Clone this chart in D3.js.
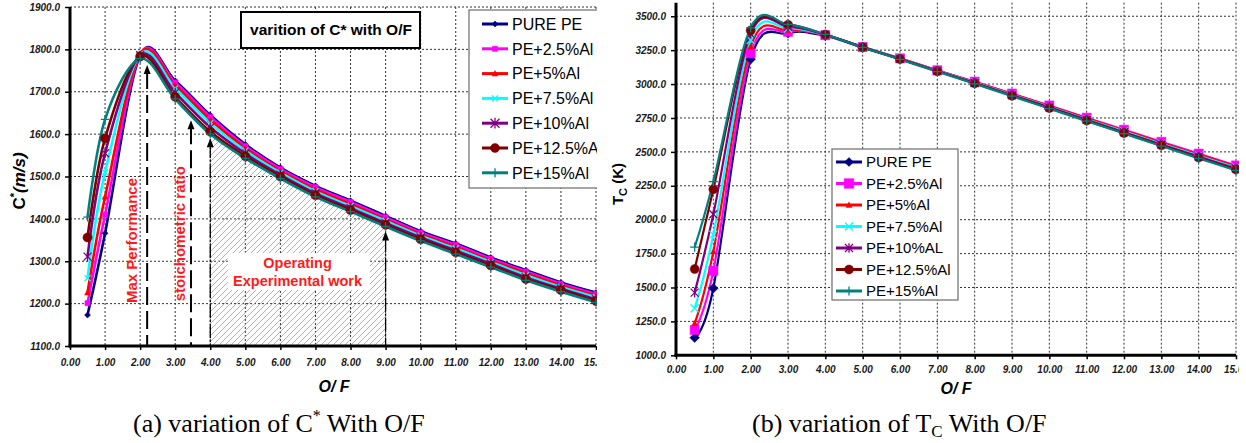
<!DOCTYPE html>
<html><head><meta charset="utf-8">
<script src="https://cdn.jsdelivr.net/npm/d3@7"></script>
<style>
body{margin:0;background:#fff;}
svg{display:block;font-family:Arial,"Liberation Sans",sans-serif;}
</style>
</head><body>
<svg id="c" width="1246" height="443"></svg>
<script>
// ---------------- DATA ----------------
const ofValues = [0.5, 1, 2, 3, 4, 5, 6, 7, 8, 9, 10, 11, 12, 13, 14, 15];
const xTicks = [0,1,2,3,4,5,6,7,8,9,10,11,12,13,14,15];

const namesA = ["PURE PE","PE+2.5%Al","PE+5%Al","PE+7.5%Al","PE+10%Al","PE+12.5%Al","PE+15%Al"];
const namesB = ["PURE PE","PE+2.5%Al","PE+5%Al","PE+7.5%Al","PE+10%AL","PE+12.5%Al","PE+15%Al"];

// (a) characteristic velocity C* (m/s)
const cPure  = [1173, 1366, 1786, 1726, 1645, 1576, 1521, 1478, 1443, 1407, 1371, 1342, 1309, 1279, 1250, 1226];
const cAl25  = [1201, 1409, 1788, 1722, 1641, 1572, 1518, 1475, 1440, 1404, 1368, 1339, 1306, 1276, 1247, 1223];
const cAl5   = [1226, 1452, 1789, 1716, 1634, 1567, 1513, 1470, 1435, 1399, 1364, 1334, 1302, 1272, 1243, 1219];
const cAl75  = [1260, 1510, 1788, 1708, 1626, 1561, 1509, 1465, 1430, 1395, 1360, 1330, 1298, 1267, 1239, 1215];
const cAl10  = [1311, 1555, 1786, 1698, 1616, 1554, 1504, 1460, 1425, 1390, 1356, 1325, 1294, 1262, 1235, 1210];
const cAl125 = [1356, 1590, 1783, 1688, 1606, 1548, 1500, 1456, 1421, 1386, 1352, 1321, 1290, 1258, 1232, 1206];
const cAl15  = [1404, 1635, 1778, 1683, 1600, 1543, 1495, 1452, 1417, 1382, 1348, 1317, 1286, 1255, 1228, 1203];

// (b) chamber temperature Tc (K)
const tPure  = [1130, 1494, 3183, 3375, 3355, 3268, 3185, 3098, 3013, 2925, 2836, 2745, 2655, 2566, 2478, 2390];
const tAl25  = [1187, 1624, 3227, 3386, 3360, 3273, 3190, 3102, 3018, 2930, 2842, 2752, 2663, 2574, 2487, 2400];
const tAl5   = [1236, 1764, 3276, 3398, 3362, 3275, 3190, 3100, 3015, 2927, 2838, 2748, 2658, 2568, 2480, 2393];
const tAl75  = [1347, 1890, 3325, 3410, 3363, 3274, 3188, 3098, 3011, 2922, 2832, 2741, 2651, 2560, 2472, 2384];
const tAl10  = [1462, 2040, 3370, 3424, 3364, 3273, 3186, 3096, 3008, 2918, 2828, 2736, 2645, 2554, 2465, 2377];
const tAl125 = [1636, 2224, 3395, 3438, 3365, 3272, 3184, 3094, 3005, 2914, 2823, 2731, 2639, 2548, 2458, 2370];
const tAl15  = [1797, 2280, 3415, 3440, 3366, 3271, 3182, 3092, 3002, 2911, 2819, 2727, 2635, 2543, 2452, 2363];

const yTicksA = [1100,1200,1300,1400,1500,1600,1700,1800,1900];
const yTicksB = [1000,1250,1500,1750,2000,2250,2500,2750,3000,3250,3500];

// annotation reference lines in chart (a): O/F position and arrow tip value
const refOF   = [2.2, 3.45, 4, 9];
const refTop  = [1763, 1633, 1590, 1370];
const workRange = [4, 9];

const colors  = ["#000080","#FF00FF","#FF0000","#00FFFF","#800080","#800000","#008080"];
const markers = ["diamond","square","triangle","x","asterisk","circle","plus"];

// ---------------- HELPERS ----------------
function markerPath(type, s){
  switch(type){
    case "diamond": return `M0,${-s}L${s},0L0,${s}L${-s},0Z`;
    case "square": return `M${-s},${-s}H${s}V${s}H${-s}Z`;
    case "triangle": return `M0,${-s}L${s},${s*0.8}L${-s},${s*0.8}Z`;
    case "x": return `M${-s},${-s}L${s},${s}M${-s},${s}L${s},${-s}`;
    case "asterisk": return `M${-s},${-s}L${s},${s}M${-s},${s}L${s},${-s}M0,${-s*1.2}V${s*1.2}`;
    case "plus": return `M${-s},0H${s}M0,${-s}V${s}`;
    case "circle": return `M${s},0A${s},${s} 0 1,1 ${-s},0A${s},${s} 0 1,1 ${s},0Z`;
  }
}
const filled = t => ["diamond","square","triangle","circle"].includes(t);

const svg = d3.select("#c");
const defs = svg.append("defs");
defs.append("clipPath").attr("id","clipA").append("rect").attr("x",0).attr("y",0).attr("width",597).attr("height",443);
defs.append("clipPath").attr("id","clipB").append("rect").attr("x",600).attr("y",0).attr("width",639).attr("height",443);
const pat = defs.append("pattern").attr("id","hatch").attr("patternUnits","userSpaceOnUse")
  .attr("width",6).attr("height",6);
pat.append("path").attr("d","M0,6L6,0M-1,1L1,-1M5,7L7,5").attr("stroke","#a8a8a8").attr("stroke-width",0.9);

function drawChart(cfg){
  const g = svg.append("g").attr("clip-path",`url(#${cfg.clip})`);
  const x = d3.scaleLinear().domain([0,15]).range(cfg.xRange);
  const y = d3.scaleLinear().domain(cfg.yDomain).range(cfg.yRange);
  const top = cfg.yRange[1], bottom = cfg.yRange[0];

  // gridlines
  const grid = g.append("g").attr("stroke","#333").attr("stroke-width",1).attr("stroke-dasharray","2,2");
  xTicks.filter(d=>d>0).forEach(d=>{
    grid.append("line").attr("x1",x(d)).attr("x2",x(d)).attr("y1",top).attr("y2",bottom);
  });
  cfg.yTicks.filter(d=>d>cfg.yDomain[0]).forEach(d=>{
    grid.append("line").attr("x1",x(0)).attr("x2",x(15)).attr("y1",y(d)).attr("y2",y(d));
  });

  if(cfg.before) cfg.before(g, x, y);

  const line = d3.line().x((d,i)=>x(ofValues[i])).y(d=>y(d)).curve(d3.curveCardinal.tension(0));
  cfg.series.forEach((s,k)=>{
    g.append("path").attr("d",line(s)).attr("fill","none").attr("stroke",colors[k])
      .attr("stroke-width",cfg.lineWidth).attr("stroke-linejoin","round");
  });
  cfg.series.forEach((s,k)=>{
    const t = markers[k];
    s.forEach((v,i)=>{
      g.append("path").attr("transform",`translate(${x(ofValues[i])},${y(v)})`)
        .attr("d",markerPath(t,cfg.markerSize[k]))
        .attr("fill",filled(t)?colors[k]:"none").attr("stroke",colors[k])
        .attr("stroke-width",filled(t)?0.5:1.3);
    });
  });

  // axes
  const ax = g.append("g").attr("transform",`translate(0,${bottom})`)
    .call(d3.axisBottom(x).tickValues(xTicks).tickSize(4).tickSizeOuter(0).tickPadding(cfg.xPad).tickFormat(d3.format(".2f")));
  const ay = g.append("g").attr("transform",`translate(${x(0)},0)`)
    .call(d3.axisLeft(y).tickValues(cfg.yTicks).tickSize(5).tickSizeOuter(0).tickPadding(5).tickFormat(d3.format(".1f")));
  [ax,ay].forEach(a=>{
    a.select(".domain").attr("stroke","#000").attr("stroke-width",3);
    a.selectAll(".tick line").attr("stroke","#000").attr("stroke-width",1.5);
    a.selectAll("text").attr("font-size",10).attr("font-weight","bold").attr("font-style","italic")
      .attr("fill","#1a1a1a").attr("font-family","Arial, 'Liberation Sans', sans-serif");
  });
  ay.select(".domain").attr("d",`M0,${bottom+1.5}V${top}`);
  ax.select(".domain").attr("d",`M${x(0)-1.5},0H${x(15)}`);

  // x-axis title
  g.append("text").attr("x",cfg.xTitle[0]).attr("y",cfg.xTitle[1]).attr("text-anchor","middle")
    .attr("font-size",16).attr("font-weight","bold").attr("font-style","italic").text("O/ F");

  // legend
  const L = cfg.legend;
  const lg = g.append("g");
  lg.append("rect").attr("x",L.x).attr("y",L.y).attr("width",L.w).attr("height",L.h)
    .attr("fill","#fff").attr("stroke","#777").attr("stroke-width",1.3);
  cfg.names.forEach((n,k)=>{
    const yy = L.y0 + k*L.dy;
    lg.append("line").attr("x1",L.lx).attr("x2",L.lx+26).attr("y1",yy).attr("y2",yy)
      .attr("stroke",colors[k]).attr("stroke-width",3);
    const t = markers[k];
    lg.append("path").attr("transform",`translate(${L.lx+13},${yy})`).attr("d",markerPath(t,L.ms[k]))
      .attr("fill",filled(t)?colors[k]:"none").attr("stroke",colors[k]).attr("stroke-width",filled(t)?0.5:1.3);
    lg.append("text").attr("x",L.lx+30).attr("y",yy).attr("dy","0.36em").attr("font-size",L.fs).attr("fill","#000").text(n);
  });
  return {g,x,y};
}

// ---------------- CHART (a) ----------------
drawChart({
  clip:"clipA", xRange:[70,596], yDomain:[1100,1900], yRange:[346,7], yTicks:yTicksA,
  series:[cPure,cAl25,cAl5,cAl75,cAl10,cAl125,cAl15], names:namesA,
  lineWidth:2.6, markerSize:[3,2.6,3,3,4,4.6,4.2], xPad:9, xTitle:[334,392],
  legend:{x:469,y:10,w:140,h:178,y0:24,dy:24.8,lx:482,fs:16,ms:[3,2.6,3,3,4.5,4.5,4.5]},
  before:(g,x,y)=>{
    // hatched operating region under the lowest curve
    const idx = ofValues.map((v,i)=>i).filter(i=>ofValues[i]>=workRange[0] && ofValues[i]<=workRange[1]);
    const area = d3.area().x(i=>x(ofValues[i])).y0(y(1100)).y1(i=>y(cAl15[i])).curve(d3.curveCardinal.tension(0));
    g.append("path").attr("d",area(idx)).attr("fill","url(#hatch)");
    // white label box
    g.append("rect").attr("x",x(4.5)).attr("y",y(1319)).attr("width",x(8.55)-x(4.5)).attr("height",y(1232)-y(1319)).attr("fill","#fff");
    const red = "#ff1a1a";
    g.append("text").attr("x",x(6.49)).attr("y",268).attr("text-anchor","middle").attr("font-size",14.5)
      .attr("font-weight","bold").attr("fill",red).text("Operating");
    g.append("text").attr("x",x(6.49)).attr("y",286).attr("text-anchor","middle").attr("font-size",14.5)
      .attr("font-weight","bold").attr("fill",red).text("Experimental work");
    // rotated labels
    g.append("text").attr("transform",`translate(${x(1.76)+5.5},${y(1349)}) rotate(-90)`).attr("text-anchor","middle")
      .attr("font-size",15).attr("font-weight","bold").attr("fill",red).text("Max Performance");
    g.append("text").attr("transform",`translate(${x(3.12)+5.5},${y(1365)}) rotate(-90)`).attr("text-anchor","middle")
      .attr("font-size",15).attr("font-weight","bold").attr("fill",red).text("stoichometric ratio");
    // reference lines + arrows
    refOF.forEach((v,i)=>{
      const dashed = i<2;
      g.append("line").attr("x1",x(v)).attr("x2",x(v)).attr("y1",y(refTop[i])+6).attr("y2",y(1100))
        .attr("stroke","#000").attr("stroke-width",dashed?2:1.3)
        .attr("stroke-dasharray",dashed?"18,6":"14,2,2,2");
      const tx=x(v), ty=y(refTop[i]);
      g.append("path").attr("d",`M${tx},${ty}L${tx+3.5},${ty+9}L${tx-3.5},${ty+9}Z`).attr("fill","#000");
    });
  }
});
// title box (a)
svg.append("rect").attr("x",241).attr("y",12).attr("width",179).attr("height",36)
  .attr("fill","#fff").attr("stroke","#000").attr("stroke-width",2);
svg.append("text").attr("x",331).attr("y",35).attr("text-anchor","middle")
  .attr("font-size",15.5).attr("font-weight","bold").text("varition of C* with O/F");

// y title (a)
const ya = svg.append("text").attr("transform","translate(25,181) rotate(-90)").attr("text-anchor","middle")
  .attr("font-size",17).attr("font-weight","bold");
ya.append("tspan").text("C");
ya.append("tspan").attr("font-size",11).attr("dy",-7).text("*");
ya.append("tspan").attr("font-style","italic").attr("dy",7).text("(m/s)");

// ---------------- CHART (b) ----------------
drawChart({
  clip:"clipB", xRange:[676,1236], yDomain:[1000,3600], yRange:[355.3,2.7], yTicks:yTicksB,
  series:[tPure,tAl25,tAl5,tAl75,tAl10,tAl125,tAl15], names:namesB,
  lineWidth:2.2, markerSize:[4.8,4.6,3,4,4,4.5,4.6], xPad:7, xTitle:[956,394],
  legend:{x:832,y:149,w:126,h:151,y0:162,dy:21.5,lx:836,fs:15,ms:[4.5,4.8,3,4,4,4.5,4.5]}
});
const yb = svg.append("text").attr("transform","translate(623,184) rotate(-90)").attr("text-anchor","middle")
  .attr("font-size",15).attr("font-weight","bold");
yb.append("tspan").text("T");
yb.append("tspan").attr("font-size",11).attr("dy",4).text("C");
yb.append("tspan").attr("dy",-4).text(" (K)");

// ---------------- CAPTIONS ----------------
const capA = svg.append("text").attr("x",133).attr("y",432).attr("font-family","'Liberation Serif','Times New Roman',serif").attr("font-size",26);
capA.append("tspan").text("(a) variation of C");
capA.append("tspan").attr("font-size",16).attr("dy",-11).text("*");
capA.append("tspan").attr("dy",11).text(" With O/F");
const capB = svg.append("text").attr("x",752).attr("y",432).attr("font-family","'Liberation Serif','Times New Roman',serif").attr("font-size",26);
capB.append("tspan").text("(b) variation of T");
capB.append("tspan").attr("font-size",17).attr("dy",5).text("C");
capB.append("tspan").attr("dy",-5).text(" With O/F");
</script>
</body></html>
